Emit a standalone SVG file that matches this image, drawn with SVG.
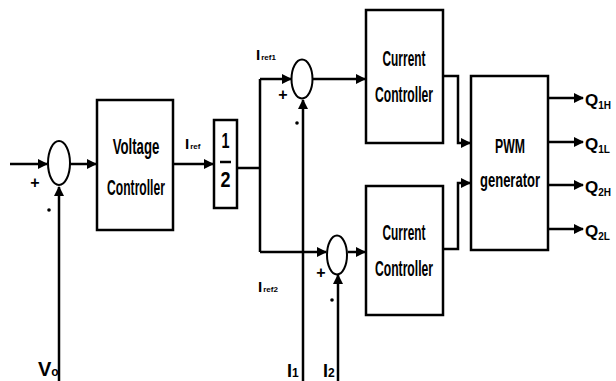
<svg xmlns="http://www.w3.org/2000/svg" width="616" height="381" viewBox="0 0 616 381">
<defs>
<marker id="ah" viewBox="0 0 10 10" refX="9" refY="5" markerWidth="4" markerHeight="4" orient="auto" markerUnits="strokeWidth">
<path d="M0,0 L10,5 L0,10 Z" fill="#000"/>
</marker>
<style>
.b{fill:#fff;stroke:#000;stroke-width:2.5}
.c{fill:#fff;stroke:#000;stroke-width:2}
.l{fill:none;stroke:#000;stroke-width:2.5}
.a{fill:none;stroke:#000;stroke-width:2.5;marker-end:url(#ah)}
.t{font-family:"Liberation Sans",Arial,sans-serif;font-weight:bold;fill:#000;text-anchor:middle}
.s{font-family:"Liberation Sans",Arial,sans-serif;font-weight:bold;fill:#000}
</style>
</defs>
<rect width="616" height="381" fill="#fff"/>
<g id="connectors">
<path class="a" d="M10,164 H47"/>
<path class="a" d="M59,381 V187"/>
<path class="a" d="M70,164 H96"/>
<path class="a" d="M173,164 H213"/>
<path class="l" d="M237,168 H260 M260,79 V252"/>
<path class="a" d="M260,79 H291"/>
<path class="a" d="M313,79 H365"/>
<path class="a" d="M260,252 H326"/>
<path class="a" d="M348,252 H365"/>
<path class="a" d="M303,381 V100"/>
<path class="a" d="M338,381 V275"/>
<path class="a" d="M443,76 H458 V143 H470"/>
<path class="a" d="M443,249 H458 V183 H470"/>
<path class="a" d="M548,98 H583"/>
<path class="a" d="M548,142 H583"/>
<path class="a" d="M548,185 H583"/>
<path class="a" d="M548,229 H583"/>
</g>
<g id="sum1"><ellipse class="c" cx="59" cy="163" rx="11" ry="22"/>
<text class="t" x="35" y="188" font-size="16">+</text><circle cx="49" cy="210" r="1.8"/></g>
<g id="sum2"><ellipse class="c" cx="302" cy="79" rx="10.5" ry="19.5"/>
<text class="t" x="283" y="100" font-size="16">+</text><circle cx="297" cy="123" r="1.8"/></g>
<g id="sum3"><ellipse class="c" cx="337" cy="255" rx="10" ry="19.5"/>
<text class="t" x="321" y="278" font-size="16">+</text><circle cx="332" cy="300" r="1.8"/></g>
<g id="voltage-controller"><rect class="b" x="97" y="100" width="76" height="130"/>
<text class="t" font-size="22" transform="translate(136,154) scale(0.6,1)">Voltage</text>
<text class="t" font-size="22" transform="translate(136,195) scale(0.55,1)">Controller</text></g>
<g id="half"><rect class="b" x="214" y="120" width="23" height="88"/>
<text class="t" x="225.5" y="148" font-size="22" textLength="8" lengthAdjust="spacingAndGlyphs">1</text>
<path class="l" d="M220,162 H231"/>
<text class="t" x="225.5" y="187" font-size="22" textLength="10" lengthAdjust="spacingAndGlyphs">2</text></g>
<g id="current-controller-1"><rect class="b" x="366" y="10" width="77" height="133"/>
<text class="t" x="404" y="66" font-size="22" textLength="43" lengthAdjust="spacingAndGlyphs">Current</text>
<text class="t" x="404" y="102" font-size="22" textLength="58" lengthAdjust="spacingAndGlyphs">Controller</text></g>
<g id="current-controller-2"><rect class="b" x="366" y="186" width="77" height="129"/>
<text class="t" x="404" y="240" font-size="22" textLength="43" lengthAdjust="spacingAndGlyphs">Current</text>
<text class="t" x="404" y="276" font-size="22" textLength="58" lengthAdjust="spacingAndGlyphs">Controller</text></g>
<g id="pwm-generator"><rect class="b" x="471" y="76" width="77" height="174"/>
<text class="t" x="510" y="153" font-size="20" textLength="30" lengthAdjust="spacingAndGlyphs">PWM</text>
<text class="t" x="510" y="187" font-size="20" textLength="60" lengthAdjust="spacingAndGlyphs">generator</text></g>
<g id="labels">
<text class="s" x="185" y="149" font-size="15">I<tspan font-size="8" dx="1">ref</tspan></text>
<text class="s" x="256" y="60" font-size="15">I<tspan font-size="8" dx="1">ref1</tspan></text>
<text class="s" x="258" y="292" font-size="15">I<tspan font-size="8" dx="1">ref2</tspan></text>
<text class="s" x="38" y="376" font-size="20">V<tspan font-size="12">o</tspan></text>
<text class="s" x="287" y="377" font-size="18">I<tspan font-size="12">1</tspan></text>
<text class="s" x="323" y="377" font-size="18">I<tspan font-size="12">2</tspan></text>
<text class="s" x="585" y="106" font-size="17">Q<tspan font-size="10" dy="3">1H</tspan></text>
<text class="s" x="585" y="150" font-size="17">Q<tspan font-size="10" dy="3">1L</tspan></text>
<text class="s" x="585" y="193" font-size="17">Q<tspan font-size="10" dy="3">2H</tspan></text>
<text class="s" x="585" y="237" font-size="17">Q<tspan font-size="10" dy="3">2L</tspan></text>
</g>
</svg>
